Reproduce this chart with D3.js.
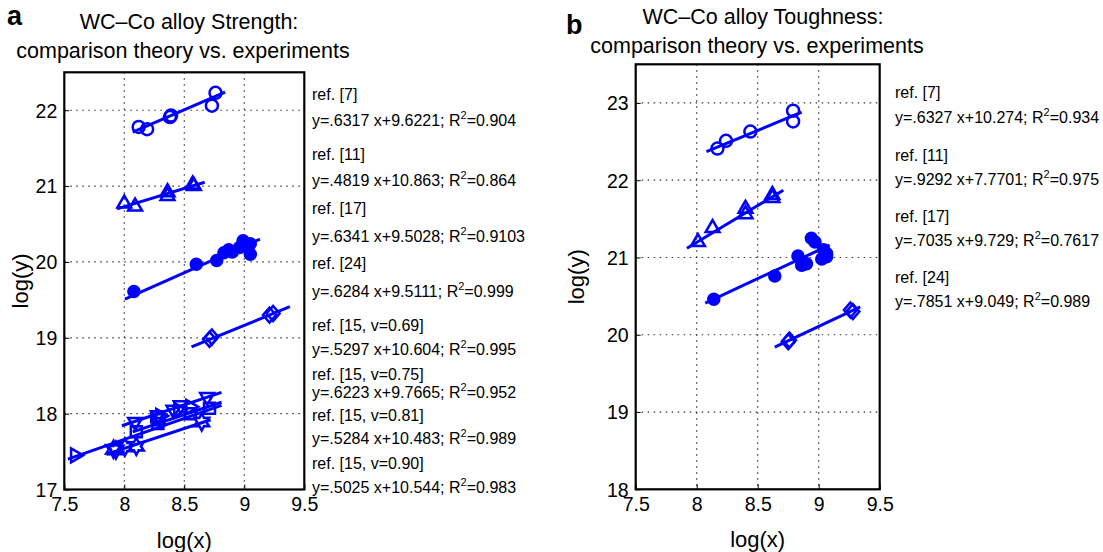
<!DOCTYPE html>
<html>
<head>
<meta charset="utf-8">
<script src="https://cdn.jsdelivr.net/npm/d3@7"></script>
<style>
  body { margin: 0; background: #fff; }
  text { font-family: "Liberation Sans", Arial, sans-serif; }
</style>
</head>
<body>
<script>
// ---- data (log units) ----

// panel a: strength
var aRef7 = [[8.12,21.78],[8.19,21.75],[8.38,21.91],[8.39,21.93],[8.73,22.06],[8.76,22.23]];
var aRef11 = [[8.00,20.77],[8.09,20.73],[8.36,20.92],[8.36,20.87],[8.57,21.02],[8.58,21.00]];
var aRef17 = [[8.08,19.61],[8.60,19.97],[8.77,20.02],[8.83,20.12],[8.87,20.16],[8.90,20.13],
              [8.96,20.19],[8.99,20.28],[9.05,20.24],[9.05,20.10]];
var aRef24 = [[8.71,18.98],[8.73,19.01],[9.21,19.30],[9.24,19.32]];
var aV069 = [[7.59,17.45],[8.30,17.97],[8.45,18.05],[8.55,18.09]];
var aV075 = [[8.09,17.89],[8.28,17.98],[8.41,18.05],[8.47,18.11],[8.69,18.22]];
var aV081 = [[8.10,17.76],[8.27,17.96],[8.28,17.87],[8.29,17.92],[8.55,18.00],[8.71,18.07]];
var aV090 = [[7.91,17.53],[7.93,17.52],[8.005,17.56],[8.10,17.57],[8.645,17.89]];

// fit lines, [start, end]
var aFit7 = [[8.07,21.71],[8.84,22.24]];
var aFit11 = [[7.94,20.70],[8.67,21.05]];
var aFit17 = [[8.005,19.51],[9.13,20.30]];
var aFit24 = [[8.56,18.88],[9.38,19.41]];
var aFit069 = [[7.53,17.40],[8.81,18.11]];
var aFit075 = [[7.98,17.84],[8.81,18.28]];
var aFit081 = [[8.07,17.76],[8.81,18.15]];
var aFit090 = [[7.88,17.48],[8.72,17.92]];

var aRefs = ["ref. [7]","ref. [11]","ref. [17]","ref. [24]",
             "ref. [15, v=0.69]","ref. [15, v=0.75]","ref. [15, v=0.81]","ref. [15, v=0.90]"];
var aEqs = ["y=.6317 x+9.6221; R","y=.4819 x+10.863; R","y=.6341 x+9.5028; R","y=.6284 x+9.5111; R",
            "y=.5297 x+10.604; R","y=.6223 x+9.7665; R","y=.5284 x+10.483; R","y=.5025 x+10.544; R"];
var aR2 = ["0.904","0.864","0.9103","0.999","0.995","0.952","0.989","0.983"];

// panel b: toughness
var bRef7 = [[8.17,22.41],[8.24,22.51],[8.44,22.63],[8.79,22.90],[8.79,22.76]];
var bRef11 = [[8.01,21.20],[8.13,21.38],[8.40,21.63],[8.40,21.56],[8.62,21.81],[8.62,21.77]];
var bRef17 = [[8.14,20.46],[8.64,20.76],[8.86,20.90],[8.90,20.92],[8.83,21.02],[8.87,20.91],
              [8.94,21.25],[8.97,21.20],[9.04,21.10],[9.065,21.05],[9.025,20.98],[9.065,21.01]];
var bRef24 = [[8.75,19.91],[8.76,19.93],[9.26,20.32],[9.28,20.30]];

var bFit7 = [[8.08,22.37],[8.86,22.88]];
var bFit11 = [[7.92,21.12],[8.71,21.87]];
var bFit17 = [[8.07,20.41],[9.09,21.16]];
var bFit24 = [[8.64,19.84],[9.34,20.36]];

var bRefs = ["ref. [7]","ref. [11]","ref. [17]","ref. [24]"];
var bEqs = ["y=.6327 x+10.274; R","y=.9292 x+7.7701; R","y=.7035 x+9.729; R","y=.7851 x+9.049; R"];
var bR2 = ["0.934","0.975","0.7617","0.989"];

var xTicks = [7.5, 8, 8.5, 9, 9.5];
var aYTicks = [17, 18, 19, 20, 21, 22];
var bYTicks = [18, 19, 20, 21, 22, 23];

// ---- drawing ----
var blue = "#0000ff";
var svg = d3.select("body").append("svg")
    .attr("width", 1103)
    .attr("height", 552);

// custom marker shapes (centered at 0,0)
function triPath(s, angle) {
  var pts = [];
  for (var i = 0; i < 3; i++) {
    var a = (angle + i * 120) * Math.PI / 180;
    pts.push([s * Math.cos(a), s * Math.sin(a)]);
  }
  return "M" + pts.join("L") + "Z";
}
function hexagram(s) {
  var pts = [];
  for (var i = 0; i < 12; i++) {
    var r = i % 2 === 0 ? s : s * 0.55;
    var a = (-90 + i * 30) * Math.PI / 180;
    pts.push([r * Math.cos(a), r * Math.sin(a)]);
  }
  return "M" + pts.join("L") + "Z";
}
var shapes = {
  circle: "M6,0A6,6 0 1,1 -6,0A6,6 0 1,1 6,0Z",
  dot: "M5.5,0A5.5,5.5 0 1,1 -5.5,0A5.5,5.5 0 1,1 5.5,0Z",
  up: triPath(8, -90),
  down: triPath(8, 90),
  right: triPath(8, 0),
  square: "M-5.5,-5.5L5.5,-5.5L5.5,5.5L-5.5,5.5Z",
  diamond: "M0,-7.5L6.5,0L0,7.5L-6.5,0Z",
  star: hexagram(8.5)
};

function drawPanel(p) {
  var x = d3.scaleLinear().domain([7.5, 9.5]).range([p.left, p.right]);
  var y = d3.scaleLinear().domain(p.yDomain).range([p.bottom, p.top]);
  var g = svg.append("g");

  // dotted grid
  g.selectAll(".vg").data(xTicks.slice(1, -1)).enter().append("line")
    .attr("x1", d => x(d)).attr("x2", d => x(d))
    .attr("y1", p.top).attr("y2", p.bottom)
    .attr("stroke", "#333").attr("stroke-width", 1.2)
    .attr("stroke-dasharray", "1.5,4.5");
  g.selectAll(".hg").data(p.yTicks.slice(1)).enter().append("line")
    .attr("x1", p.left).attr("x2", p.right)
    .attr("y1", d => y(d)).attr("y2", d => y(d))
    .attr("stroke", "#333").attr("stroke-width", 1.2)
    .attr("stroke-dasharray", "1.5,4.5");

  // axes (matlab style, ticks inward)
  var bottomAxis = d3.axisBottom(x).tickValues(xTicks).tickSizeInner(-5).tickSizeOuter(0)
    .tickPadding(10).tickFormat(d3.format("~g"));
  var leftAxis = d3.axisLeft(y).tickValues(p.yTicks).tickSizeInner(-5).tickSizeOuter(0)
    .tickPadding(7).tickFormat(d3.format("d"));
  var ax = g.append("g").attr("transform", "translate(0," + p.bottom + ")").call(bottomAxis);
  var ay = g.append("g").attr("transform", "translate(" + p.left + ",0)").call(leftAxis);
  [ax, ay].forEach(function(a) {
    a.select(".domain").remove();
    a.selectAll("line").attr("stroke", "#000").attr("stroke-width", 1);
    a.selectAll("text").attr("font-size", 19.5).attr("fill", "#000")
      .style("font-family", "'Liberation Sans', Arial, sans-serif");
  });
  ax.selectAll("text").attr("dy", "0.6em");
  ay.selectAll("text").attr("dy", "0.35em");

  // box
  g.append("rect")
    .attr("x", p.left).attr("y", p.top)
    .attr("width", p.right - p.left).attr("height", p.bottom - p.top)
    .attr("fill", "none").attr("stroke", "#000").attr("stroke-width", 2.2);

  // fit lines + markers
  p.series.forEach(function(s) {
    g.append("path")
      .datum(s.fit)
      .attr("d", d3.line().x(d => x(d[0])).y(d => y(d[1])))
      .attr("stroke", blue).attr("stroke-width", 3).attr("fill", "none");
    g.selectAll(null)
      .data(s.pts)
      .enter()
      .append("path")
      .attr("transform", d => "translate(" + x(d[0]) + "," + y(d[1]) + ")")
      .attr("d", shapes[s.shape])
      .attr("fill", s.shape === "dot" ? blue : "none")
      .attr("stroke", blue)
      .attr("stroke-width", 2.5);
  });

  // axis labels
  svg.append("text")
    .attr("x", (p.left + p.right) / 2).attr("y", p.bottom + 58)
    .attr("text-anchor", "middle").attr("font-size", 22)
    .text("log(x)");
  svg.append("text")
    .attr("transform", "translate(" + p.ylabX + "," + ((p.top + p.bottom) / 2) + ") rotate(-90)")
    .attr("text-anchor", "middle").attr("font-size", 22)
    .text("log(y)");

  // titles
  svg.append("text").attr("x", p.letterX).attr("y", p.letterY)
    .attr("font-size", 27).attr("font-weight", "bold").text(p.letter);
  svg.append("text").attr("x", p.titleX).attr("y", p.titleY)
    .attr("text-anchor", "middle").attr("font-size", 21.5).text(p.title1);
  svg.append("text").attr("x", p.titleX - 6).attr("y", p.titleY + 29)
    .attr("text-anchor", "middle").attr("font-size", 21.5).text(p.title2);

  // fit annotations
  p.refs.forEach(function(r, i) {
    var yy = p.annY[i];
    svg.append("text").attr("x", p.annX).attr("y", yy)
      .attr("font-size", 16).text(r);
    var t = svg.append("text").attr("x", p.annX).attr("y", yy + p.eqGap[i])
      .attr("font-size", 16).text(p.eqs[i]);
    t.append("tspan").attr("font-size", 11).attr("dy", -7).text("2");
    t.append("tspan").attr("dy", 7).text("=" + p.r2[i]);
  });
}

drawPanel({
  left: 64.3, right: 304.3, top: 72.3, bottom: 489.5,
  yDomain: [17, 22.5], yTicks: aYTicks, ylabX: 28,
  letter: "a", letterX: 7, letterY: 25,
  title1: "WC\u2013Co alloy Strength:", title2: "comparison theory vs. experiments",
  titleX: 189, titleY: 29,
  series: [
    {pts: aRef7, fit: aFit7, shape: "circle"},
    {pts: aRef11, fit: aFit11, shape: "up"},
    {pts: aRef17, fit: aFit17, shape: "dot"},
    {pts: aRef24, fit: aFit24, shape: "diamond"},
    {pts: aV069, fit: aFit069, shape: "right"},
    {pts: aV075, fit: aFit075, shape: "down"},
    {pts: aV081, fit: aFit081, shape: "square"},
    {pts: aV090, fit: aFit090, shape: "star"}
  ],
  refs: aRefs, eqs: aEqs, r2: aR2,
  annX: 312,
  annY: [100, 160, 214, 269, 331, 380, 421, 469],
  eqGap: [26, 26, 28, 28, 24, 18, 23, 24]
});

drawPanel({
  left: 635.7, right: 879.7, top: 64.3, bottom: 489.3,
  yDomain: [18, 23.5], yTicks: bYTicks, ylabX: 584,
  letter: "b", letterX: 566, letterY: 34,
  title1: "WC\u2013Co alloy Toughness:", title2: "comparison theory vs. experiments",
  titleX: 763, titleY: 24,
  series: [
    {pts: bRef7, fit: bFit7, shape: "circle"},
    {pts: bRef11, fit: bFit11, shape: "up"},
    {pts: bRef17, fit: bFit17, shape: "dot"},
    {pts: bRef24, fit: bFit24, shape: "diamond"}
  ],
  refs: bRefs, eqs: bEqs, r2: bR2,
  annX: 895,
  annY: [98, 161, 222, 283],
  eqGap: [25, 24, 24, 24]
});
</script>
</body>
</html>
